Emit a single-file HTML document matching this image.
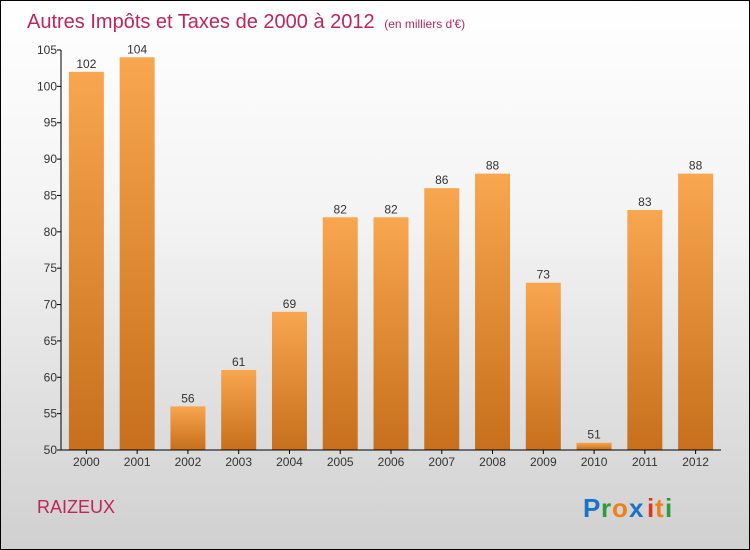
<!DOCTYPE html>
<html><head><meta charset="utf-8"><style>
body{margin:0}
#c{width:748px;height:548px;border:1px solid #000;position:relative;background:linear-gradient(#ffffff,#f3f3f3 40%,#d0d0d0);font-family:"Liberation Sans",sans-serif;overflow:hidden}
</style></head><body>
<div id="c">
<svg width="748" height="548">
<defs><linearGradient id="bg" x1="0" y1="0" x2="0" y2="1"><stop offset="0" stop-color="#f8a64f"/><stop offset="1" stop-color="#c76f1c"/></linearGradient></defs>
<text x="26" y="27" font-size="20" fill="#c0245a">Autres Impôts et Taxes de 2000 à 2012 <tspan font-size="12" dx="4">(en milliers d'€)</tspan></text>
<g id="plot"></g>
<text x="36" y="512" font-size="18" fill="#c0245a">RAIZEUX</text>
<g font-size="26" font-weight="bold" font-family="Liberation Sans, sans-serif">
<text x="582" y="516" fill="#1a73c9">P</text><text x="600" y="516" fill="#2e9b3a">r</text><text x="611" y="516" fill="#f07f1a">o</text><text x="628" y="516" fill="#1a73c9">x</text><text x="646" y="516" fill="#e0341e">i</text><text x="654" y="516" fill="#f07f1a">t</text><text x="664" y="516" fill="#2e9b3a">i</text>
</g>
</svg>
</div>
<script>
const years=["2000","2001","2002","2003","2004","2005","2006","2007","2008","2009","2010","2011","2012"];
const values=[102,104,56,61,69,82,82,86,88,73,51,83,88];
const ticks=[50,55,60,65,70,75,80,85,90,95,100,105];
const NS="http://www.w3.org/2000/svg";
const g=document.getElementById("plot");
const x0=60,x1=720,yTop=49,yBot=449,vmin=50,vmax=105;
const y=v=>yBot-(v-vmin)/(vmax-vmin)*(yBot-yTop);
const step=(x1-x0)/years.length;
const xc=i=>x0+step*(i+0.5);
function mk(t,a){const e=document.createElementNS(NS,t);for(const k in a)e.setAttribute(k,a[k]);g.appendChild(e);return e;}
ticks.forEach(t=>{
 const l=mk("line",{x1:x0-4,x2:x0,y1:y(t),y2:y(t),stroke:"#000"});
 
 
 const tx=mk("text",{x:x0-4,y:y(t)+4,"text-anchor":"end","font-size":12,fill:"#333"});
 tx.textContent=t;
 
 
});
values.forEach((v,i)=>{
 const w=35;
 const r=mk("rect",{x:xc(i)-w/2,y:y(v),width:w,height:yBot-y(v),fill:"url(#bg)"});
 
 
 const vl=mk("text",{x:xc(i),y:y(v)-4,"text-anchor":"middle","font-size":12,fill:"#333"});
 vl.textContent=v;
 
 
 const tk=mk("line",{x1:xc(i),x2:xc(i),y1:yBot,y2:yBot+4,stroke:"#000"});
 
 
 const xl=mk("text",{x:xc(i),y:yBot+16,"text-anchor":"middle","font-size":12,fill:"#333"});
 xl.textContent=years[i];
 
 
});
const ya=mk("line",{x1:x0,x2:x0,y1:yTop,y2:yBot,stroke:"#000"});


const xa=mk("line",{x1:x0,x2:x1,y1:yBot,y2:yBot,stroke:"#000"});


</script>
</body></html>
